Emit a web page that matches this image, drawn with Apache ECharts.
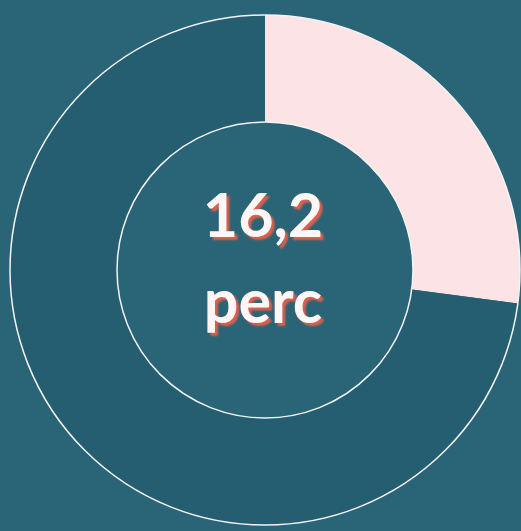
<!DOCTYPE html>
<html>
<head>
<meta charset="utf-8">
<script src="https://cdn.jsdelivr.net/npm/echarts@6/dist/echarts.min.js"></script>
<style>
  html, body { margin: 0; padding: 0; background: #2a6577; }
  #chart { width: 521px; height: 531px; }
</style>
</head>
<body>
<div id="chart"></div>
<script>
// share shown by the pink slice vs. the rest
const sliceNames = ["rész", "többi"];
const sliceValues = [27.1, 72.9];
const centerLines = ["16,2", "perc"];

const chart = echarts.init(document.getElementById("chart"), null, { renderer: "canvas" });

const center = [265, 270];
const lineY = [217, 303];

const textStyle = {
  fill: "#fff7f6",
  fontFamily: "Lato",
  fontWeight: "bold",
  fontSize: 61,
  align: "center",
  verticalAlign: "middle",
  textShadowColor: "#d9604f",
  textShadowBlur: 2,
  textShadowOffsetX: 3,
  textShadowOffsetY: 3,
};

chart.setOption({
  backgroundColor: "#2a6577",
  animation: false,
  graphic: centerLines.map((text, i) => ({
    type: "text",
    x: 263,
    y: lineY[i],
    silent: true,
    z: 10,
    style: Object.assign({ text }, textStyle),
  })),
  series: [
    {
      type: "pie",
      center,
      radius: [148, 255],
      startAngle: 90,
      clockwise: true,
      silent: true,
      label: { show: false },
      labelLine: { show: false },
      data: sliceNames.map((name, i) => ({
        name,
        value: sliceValues[i],
        itemStyle: { color: i === 0 ? "#fce3e6" : "#245e70" },
      })),
    },
    {
      // thin white outlines on both edges of the ring
      type: "pie",
      center,
      radius: [148, 255],
      silent: true,
      label: { show: false },
      labelLine: { show: false },
      itemStyle: { color: "transparent", borderColor: "#f4f4f4", borderWidth: 1.5 },
      data: [{ value: 1 }],
    },
  ],
});
</script>
</body>
</html>
